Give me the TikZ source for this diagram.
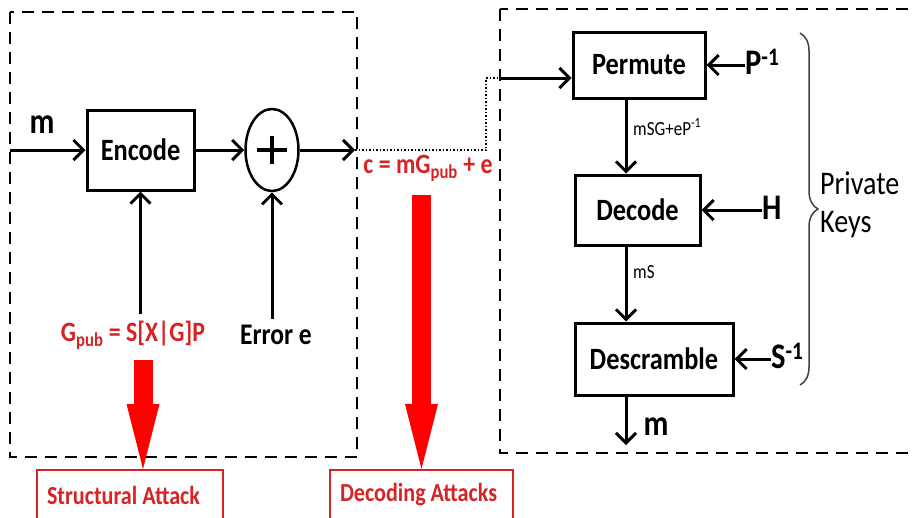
\documentclass[tikz,border=0pt]{standalone}
\usepackage{fontspec}
\setmainfont{Carlito}[FakeStretch=0.85]
\usetikzlibrary{arrows.meta,shapes.geometric,positioning,decorations.pathreplacing}
\definecolor{attackred}{RGB}{215,35,35}
\tikzset{block/.style={rectangle,draw,line width=3pt,inner sep=0pt,font=\bfseries\fontsize{31}{36}\selectfont},
         sum node/.style={ellipse,draw,line width=2.5pt,minimum width=53pt,minimum height=82pt,inner sep=0pt},
         attack box/.style={rectangle,draw=attackred,line width=2pt,text=attackred,font=\bfseries\fontsize{26}{30}\selectfont,minimum height=50pt,inner ysep=0pt,inner xsep=10pt,align=flush left},
         key label/.style={font=\bfseries\fontsize{36}{40}\selectfont,inner sep=0pt},
         edge label/.style={font=\fontsize{20}{24}\selectfont,inner sep=0pt},
         red label/.style={text=attackred,font=\bfseries\fontsize{28}{32}\selectfont,inner sep=0pt},
         red arrow/.style={draw=red,line width=19pt,-{Triangle[length=65pt,width=33pt,line width=0pt]}},
         arr/.style={line width=3pt,-{Straight Barb[length=10pt,width=20pt]}},
         frame/.style={line width=2.5pt,dash pattern=on 12pt off 8pt}
}

\begin{document}
\begin{tikzpicture}[x=1pt,y=-1pt]
    \useasboundingbox (0,0) rectangle (916,517);

    % public side
    \draw[frame] (10,12) rectangle (357,457);
    \node[block,minimum width=107pt,minimum height=80pt] (encode) at (140.5,150) {Encode};
    \node[sum node,
          path picture={\draw[line width=3.5pt] (path picture bounding box.center) +(-15pt,0pt) -- +(15pt,0pt)
                        (path picture bounding box.center) +(0pt,-14pt) -- +(0pt,14pt);}] (sum) at (272,150) {};
    \coordinate (msg in) at (10,150);
    \coordinate (cipher) at (355,150);
    \node[key label] (m in) at (42,125) {m};
    \draw[arr] (msg in) -- (encode);
    \draw[arr] (encode) -- (sum);
    \draw[arr] (sum) -- (cipher);

    \node[red label] (gpub) at (133,335) {G\textsubscript{pub} = S[X|G]P};
    \node[font=\bfseries\fontsize{30}{34}\selectfont,inner sep=0pt] (err) at (276,335) {Error e};
    \draw[arr] ([yshift=6pt]gpub.north -| encode.south) -- (encode.south);
    \draw[arr] ([yshift=6pt]err.north -| sum.south) -- (sum.south);

    % channel
    \node[red label] (cword) at (428,168) {c = mG\textsubscript{pub} + e};
    \coordinate (bend) at (486,150);
    \coordinate (enter) at (500,78);

    % private side
    \draw[frame] (500,9) rectangle (930,453);
    \node[block,minimum width=132pt,minimum height=66pt] (permute) at (639,65) {Permute};
    \node[block,minimum width=125pt,minimum height=70pt] (decode) at (637.5,210) {Decode};
    \node[block,minimum width=158pt,minimum height=72pt] (descramble) at (654,359) {Descramble};
    \coordinate (spine) at (626,0);
    \coordinate (m end) at (626,445);

    \draw[dotted,line width=1.5pt] (cipher) -- (bend) |- (enter);
    \draw[arr] (enter) -- (enter -| permute.west);
    \draw[arr] (permute.south -| spine) -- (decode.north -| spine);
    \draw[arr] (decode.south -| spine) -- (descramble.north -| spine);
    \draw[arr] (descramble.south -| spine) -- (m end);
    \node[edge label,anchor=west] (l1) at (633,127) {mSG+eP\textsuperscript{-1}};
    \node[edge label,anchor=west] (l2) at (633,272) {mS};
    \node[key label] (m out) at (656,427) {m};

    \node[key label,anchor=west] (pinv) at (745,62) {P\textsuperscript{-1}};
    \node[key label,anchor=west] (hkey) at (762,208) {H};
    \node[key label,anchor=west] (sinv) at (771,356) {S\textsuperscript{-1}};
    \draw[arr] (pinv.west |- permute.east) -- (permute.east);
    \draw[arr] (hkey.west |- decode.east) -- (decode.east);
    \draw[arr] (sinv.west |- descramble.east) -- (descramble.east);

    \draw[line width=1.5pt,black!75,decorate,decoration={brace,amplitude=18pt}] (800,33) -- (800,385);
    \node[anchor=west,align=left,inner sep=0pt,font=\fontsize{33}{38}\selectfont] (keys) at (820,205) {Private\\Keys};

    % attacks
    \node[attack box,text width=166pt] (struct) at (130,495) {Structural Attack};
    \node[attack box,text width=163pt] (decatt) at (421.5,495) {Decoding Attacks};
    \coordinate (gtail) at (143,360);
    \coordinate (ctail) at (421.5,195);
    \draw[red arrow] (gtail) -- ([xshift=13pt]struct.north);
    \draw[red arrow] (ctail) -- (decatt.north);

\end{tikzpicture}
\end{document}
